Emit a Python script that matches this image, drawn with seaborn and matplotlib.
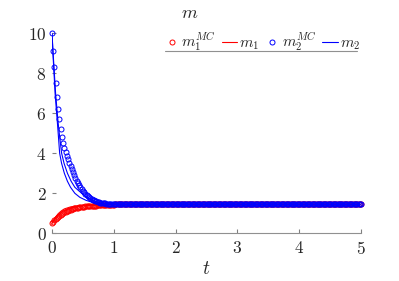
import numpy as np
import pandas as pd
import seaborn as sns
import matplotlib.pyplot as plt
from matplotlib.lines import Line2D

t_mc = np.round(np.arange(0, 5.0001, 0.02), 2)

m1_mc_start = [0.50, 0.58, 0.66, 0.73, 0.79, 0.84, 0.89, 0.94, 0.98, 1.02,
               1.05, 1.08, 1.11, 1.14, 1.16, 1.19, 1.21, 1.23, 1.25, 1.26,
               1.28, 1.29, 1.30, 1.31, 1.32, 1.33, 1.34, 1.35, 1.35, 1.36,
               1.37, 1.37, 1.38, 1.38, 1.39, 1.39, 1.39, 1.40, 1.40, 1.40,
               1.41, 1.41, 1.41, 1.41, 1.42, 1.42, 1.42, 1.42, 1.43, 1.43,
               1.43]
m2_mc_start = [10.0, 9.10, 8.30, 7.50, 6.80, 6.20, 5.70, 5.20, 4.80, 4.50,
               4.28, 4.08, 3.88, 3.70, 3.54, 3.38, 3.23, 3.08, 2.93, 2.78,
               2.64, 2.52, 2.41, 2.31, 2.22, 2.14, 2.06, 1.99, 1.93, 1.87,
               1.82, 1.77, 1.73, 1.69, 1.66, 1.63, 1.60, 1.58, 1.56, 1.54,
               1.53, 1.52, 1.51, 1.50, 1.49, 1.48, 1.48, 1.47, 1.47, 1.46,
               1.46]
m1_mc_plateau = 1.45
m2_mc_plateau = 1.45

# model curves (two runs each)
t_a = [0, 0.015, 0.033, 0.05, 0.07, 0.088, 0.105, 0.124, 0.155, 0.2, 0.25,
       0.3, 0.37, 0.45, 0.55, 0.65, 0.75, 0.85, 1.0, 1.5, 2, 3, 4, 5]
m2_a = [10.0, 9.0, 8.0, 7.0, 6.2, 5.5, 4.8, 4.0, 3.5, 3.0, 2.6,
        2.3, 2.0, 1.8, 1.65, 1.55, 1.49, 1.46, 1.44, 1.44, 1.44, 1.44, 1.44, 1.44]
t_b = [0, 0.018, 0.038, 0.058, 0.08, 0.1, 0.125, 0.156, 0.195, 0.25, 0.31,
       0.37, 0.48, 0.56, 0.65, 0.74, 0.84, 0.95, 1.1, 1.5, 2, 3, 4, 5]
m2_b = [10.0, 9.0, 8.0, 7.0, 6.2, 5.5, 4.8, 4.0, 3.5, 3.0, 2.6,
        2.3, 2.0, 1.8, 1.65, 1.55, 1.49, 1.46, 1.44, 1.44, 1.44, 1.44, 1.44, 1.44]
t_r = [0, 0.05, 0.1, 0.15, 0.2, 0.3, 0.4, 0.5, 0.6, 0.8, 1.0, 2, 3, 4, 5]
m1_a = [0.5, 0.78, 0.98, 1.12, 1.22, 1.32, 1.37, 1.40, 1.41, 1.43, 1.44, 1.44, 1.44, 1.44, 1.44]
m1_b = [0.5, 0.72, 0.90, 1.04, 1.14, 1.27, 1.34, 1.38, 1.40, 1.42, 1.44, 1.44, 1.44, 1.44, 1.44]

n_tail = len(t_mc) - len(m1_mc_start)
mc = pd.DataFrame({
    't': t_mc,
    'm1': m1_mc_start + [m1_mc_plateau] * n_tail,
    'm2': m2_mc_start + [m2_mc_plateau] * n_tail,
})

sns.set_style('ticks')
plt.rcParams['font.family'] = 'serif'
plt.rcParams['font.serif'] = ['cmr10', 'DejaVu Serif']
plt.rcParams['mathtext.fontset'] = 'cm'
plt.rcParams['axes.formatter.use_mathtext'] = True

fig = plt.figure(figsize=(3.99, 2.81), dpi=100)
ax = fig.add_axes([52 / 399, 1 - 233.3 / 281, 309 / 399, 200 / 281])

mk = dict(marker='o', linestyle='none', markersize=3.6, markerfacecolor='none',
          markeredgewidth=0.7, estimator=None, sort=False, clip_on=False)
sns.lineplot(data=mc, x='t', y='m1', color='red', markeredgecolor='red',
             label='$m_1^{MC}$', ax=ax, **mk)
sns.lineplot(x=t_r, y=m1_a, color='red', lw=0.8, label='$m_1$', ax=ax)
sns.lineplot(x=t_r, y=m1_b, color='red', lw=0.8, label='_nolegend_', ax=ax)
sns.lineplot(data=mc, x='t', y='m2', color='blue', markeredgecolor='blue',
             label='$m_2^{MC}$', ax=ax, **mk)
sns.lineplot(x=t_a, y=m2_a, color='blue', lw=0.8, label='$m_2$', ax=ax)
sns.lineplot(x=t_b, y=m2_b, color='blue', lw=0.8, label='_nolegend_', ax=ax)

ax.set_xlim(0, 5)
ax.set_ylim(0, 10)
ax.set_xticks(range(0, 6))
ax.set_yticks(range(0, 11, 2))
ax.set_xticklabels([f'${v}$' for v in range(0, 6)])
ax.set_yticklabels([f'${v}$' for v in range(0, 11, 2)])
ax.tick_params(direction='in', length=3, color='#808080', labelsize=12.5, colors='#262626')
ax.tick_params(axis='x', pad=5)
ax.tick_params(axis='y', pad=4)
ax.set_xlabel('$t$', fontsize=14, labelpad=2)
ax.set_ylabel('')
for s in ['top', 'right', 'left']:
    ax.spines[s].set_visible(False)
ax.spines['bottom'].set_color('#909090')
ax.spines['bottom'].set_linewidth(0.8)
ax.set_facecolor('white')

leg = ax.legend(ncol=4, frameon=False, fontsize=11, loc='center',
                bbox_to_anchor=(262 / 399, 1 - 42 / 281), bbox_transform=fig.transFigure,
                handlelength=1.0, handletextpad=0.15, columnspacing=0.35,
                borderpad=0, borderaxespad=0)
fig.text(190 / 399, 1 - 13 / 281, '$m$', fontsize=13, ha='center', va='center')
fig.add_artist(Line2D([165 / 399, 357 / 399], [1 - 51 / 281, 1 - 51 / 281],
                      color='#909090', lw=0.8, transform=fig.transFigure))

fig.savefig('out.png', dpi=100, facecolor='white')
